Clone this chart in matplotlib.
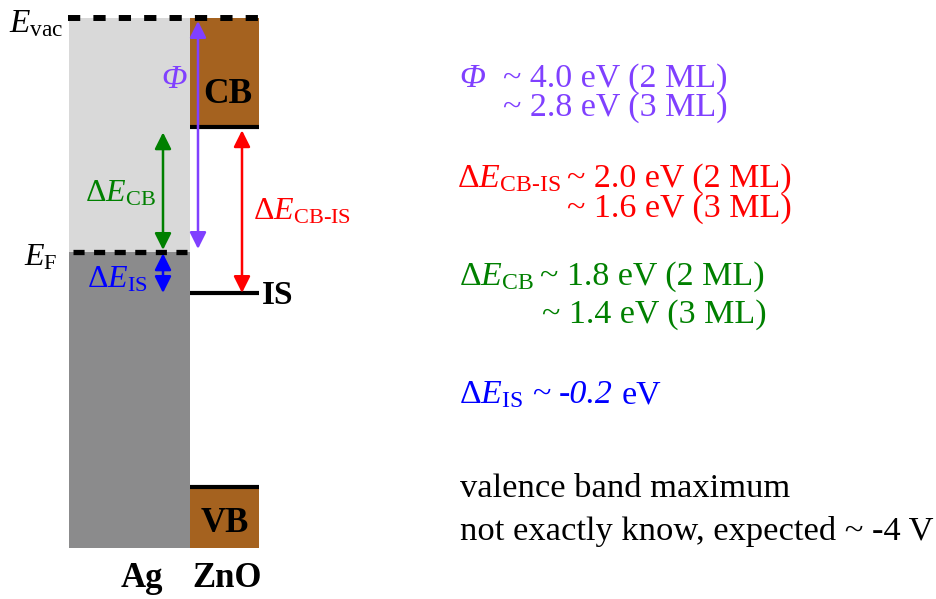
import matplotlib
matplotlib.use('Agg')
import matplotlib.pyplot as plt
from matplotlib.patches import Rectangle, FancyArrowPatch

plt.rcParams['font.family'] = ['Liberation Serif', 'DejaVu Serif']
plt.rcParams['mathtext.fontset'] = 'custom'
plt.rcParams['mathtext.rm'] = 'Liberation Serif'
plt.rcParams['mathtext.it'] = 'Liberation Serif:italic'
plt.rcParams['mathtext.bf'] = 'Liberation Serif:bold'

# ---- data: schematic energy levels (eV, relative to vacuum level) ----
E_vac = 0.0
E_CB = -1.86
E_F = -4.0
E_IS = -4.70
E_VB = -8.02
E_bottom = -9.06

materials = ['Ag', 'ZnO']
band_labels = ['CB', 'VB', 'IS']

phi_values = ['~ 4.0 eV (2 ML)', '~ 2.8 eV (3 ML)']
cbis_values = ['~ 2.0 eV (2 ML)', '~ 1.6 eV (3 ML)']
cb_values = ['~ 1.8 eV (2 ML)', '~ 1.4 eV (3 ML)']
is_value = '-0.2'
note_lines = ['valence band maximum', 'not exactly know, expected ~ -4 V']

# ---- colours ----
c_light = '#d9d9d9'
c_dark = '#8b8b8c'
c_brown = '#a5621f'
c_purple = '#8040ff'
c_red = '#ff0000'
c_green = '#008000'
c_blue = '#0000ff'

W, H = 936, 599
px_per_eV = 58.5
y_top_px = 18
fig = plt.figure(figsize=(W / 100, H / 100), dpi=100)
ax = fig.add_axes([0, 0, 1, 1])
ax.set_xlim(0, W)
ax.set_ylim(E_vac - (H - y_top_px) / px_per_eV, E_vac + y_top_px / px_per_eV)
ax.axis('off')

# text overlay in reference pixel coordinates
tax = fig.add_axes([0, 0, 1, 1], zorder=5)
tax.set_xlim(0, W)
tax.set_ylim(H, 0)
tax.axis('off')
tax.patch.set_alpha(0)

ag_x0, ag_x1 = 69, 190
zn_x0, zn_x1 = 190, 259

# Ag: occupied (dark) and unoccupied (light)
ax.add_patch(Rectangle((ag_x0, E_F), ag_x1 - ag_x0, E_vac - E_F, fc=c_light, ec='none', zorder=1))
ax.add_patch(Rectangle((ag_x0, E_bottom), ag_x1 - ag_x0, E_F - E_bottom, fc=c_dark, ec='none', zorder=1))
# ZnO bands
ax.add_patch(Rectangle((zn_x0, E_CB), zn_x1 - zn_x0, E_vac - E_CB, fc=c_brown, ec='none', zorder=1))
ax.add_patch(Rectangle((zn_x0, E_bottom), zn_x1 - zn_x0, E_VB - E_bottom, fc=c_brown, ec='none', zorder=1))
ax.plot([zn_x0, zn_x1], [E_CB, E_CB], color='k', lw=3.0, solid_capstyle='butt', zorder=3)
ax.plot([zn_x0, zn_x1], [E_VB, E_VB], color='k', lw=3.0, solid_capstyle='butt', zorder=3)
ax.plot([zn_x0, zn_x1], [E_IS, E_IS], color='k', lw=3.0, solid_capstyle='butt', zorder=3)

# dashed levels
ax.plot([ag_x0 - 1, zn_x1], [E_vac, E_vac], color='k', lw=4.3,
        linestyle=(0, (2.05, 2.2)), dash_capstyle='butt', zorder=4)
ax.plot([ag_x0 + 4, ag_x1], [E_F, E_F], color='k', lw=3.8,
        linestyle=(0, (2.1, 1.8)), dash_capstyle='butt', zorder=4)


def arrow(x, e0, e1, color, s0, s1):
    a = FancyArrowPatch((x, e0), (x, e1), arrowstyle='<|-|>,head_length=1.0,head_width=0.5',
                        mutation_scale=10, color=color, lw=1.8, shrinkA=s0, shrinkB=s1, zorder=6)
    ax.add_patch(a)


arrow(198, E_vac, E_F, c_purple, 2.2, 2.2)
arrow(163, E_CB, E_F, c_green, 4.0, 1.5)
arrow(163, E_F, E_IS, c_blue, 1.0, 0.0)
arrow(242, E_CB, E_IS, c_red, 2.5, 0.0)

# ---- left labels ----
tax.text(9, 32, r'$E_{\mathrm{vac}}$', fontsize=24, ha='left', va='baseline')
tax.text(24, 266, r'$E_{\mathrm{F}}$', fontsize=23, ha='left', va='baseline')
tax.text(161, 88, 'Φ', fontsize=24, ha='left', va='baseline', color=c_purple,
         fontstyle='italic')
tax.text(85, 202, r'$\Delta E_{\mathrm{CB}}$', fontsize=23, ha='left', va='baseline', color=c_green)
tax.text(87, 288, r'$\Delta E_{\mathrm{IS}}$', fontsize=23, ha='left', va='baseline', color=c_blue)
tax.text(253, 219, r'$\Delta E_{\text{CB-IS}}$',
         fontsize=23, ha='left', va='baseline', color=c_red)
tax.text(228, 103, band_labels[0], fontsize=25.5, fontweight='bold', ha='center', va='baseline')
tax.text(225, 532, band_labels[1], fontsize=25, fontweight='bold', ha='center', va='baseline')
tax.text(262, 304, band_labels[2], fontsize=24, fontweight='bold', ha='left', va='baseline')
tax.text(142, 587, materials[0], fontsize=25, fontweight='bold', ha='center', va='baseline')
tax.text(227, 587, materials[1], fontsize=25, fontweight='bold', ha='center', va='baseline')

# ---- right annotations ----
fs = 24.5
tax.text(459, 87, 'Φ', fontsize=fs, fontstyle='italic', color=c_purple, va='baseline')
tax.text(503, 87, phi_values[0], fontsize=fs, color=c_purple, va='baseline')
tax.text(503, 116, phi_values[1], fontsize=fs, color=c_purple, va='baseline')

tax.text(457, 187, r'$\Delta E_{\text{CB-IS}}$', fontsize=fs, color=c_red, va='baseline')
tax.text(567, 187, cbis_values[0], fontsize=fs, color=c_red, va='baseline')
tax.text(567, 217, cbis_values[1], fontsize=fs, color=c_red, va='baseline')

tax.text(459, 285, r'$\Delta E_{\mathrm{CB}}$', fontsize=fs, color=c_green, va='baseline')
tax.text(540, 285, cb_values[0], fontsize=fs, color=c_green, va='baseline')
tax.text(542, 323, cb_values[1], fontsize=fs, color=c_green, va='baseline')

tax.text(459, 403, r'$\Delta E_{\mathrm{IS}}$', fontsize=fs, color=c_blue, va='baseline')
tax.text(532, 403, '~', fontsize=fs, color=c_blue, va='baseline')
tax.text(559, 403, is_value, fontsize=fs, fontstyle='italic', color=c_blue, va='baseline')
tax.text(622, 403, 'eV', fontsize=fs, color=c_blue, va='baseline')

tax.text(460, 497, note_lines[0], fontsize=24.8, color='k', va='baseline')
tax.text(460, 540, note_lines[1], fontsize=24.8, color='k', va='baseline')

fig.savefig('out.png', dpi=100)
